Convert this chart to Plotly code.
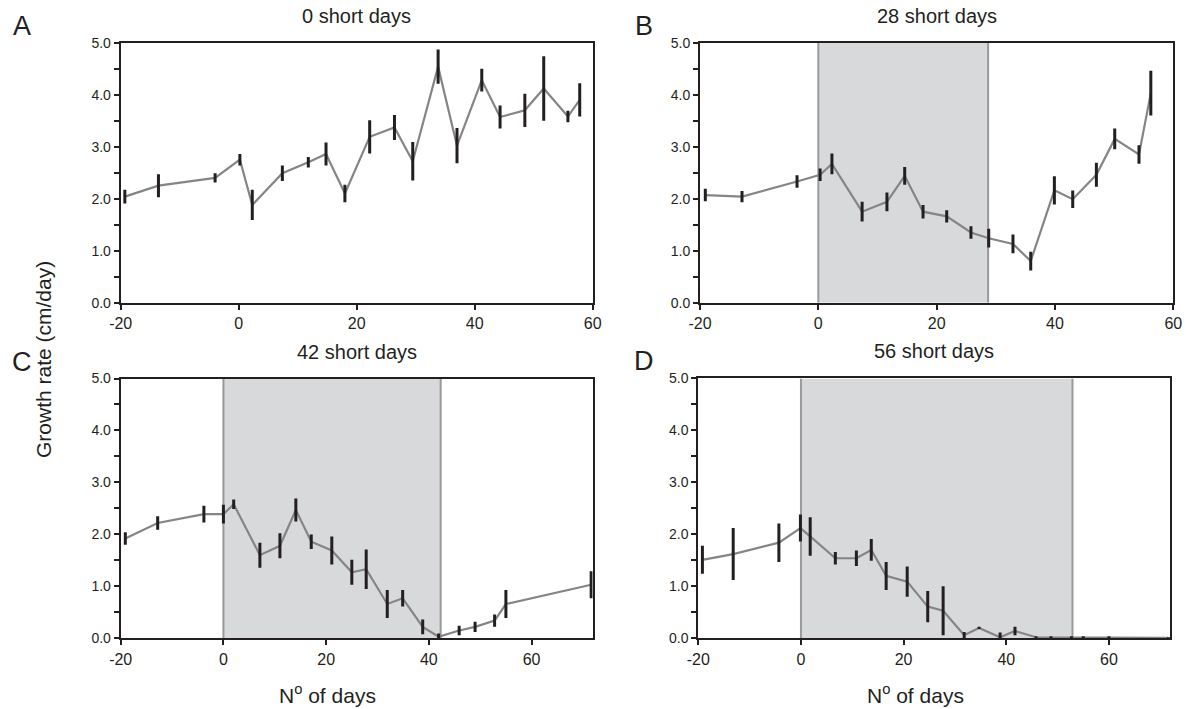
import plotly.graph_objects as go

# ---------------- data ----------------
panel_titles = ["0 short days", "28 short days", "42 short days", "56 short days"]
panel_letters = ["A", "B", "C", "D"]

a_days = [-19.3, -13.6, -4.0, 0.2, 2.3, 7.4, 11.8, 14.8, 18.0, 22.2, 26.4, 29.5,
          33.8, 37.0, 41.2, 44.3, 48.5, 51.7, 55.8, 57.8]
a_rate = [2.04, 2.25, 2.40, 2.75, 1.88, 2.49, 2.70, 2.86, 2.10, 3.19, 3.37, 2.72,
          4.54, 3.02, 4.28, 3.57, 3.70, 4.12, 3.58, 3.90]
a_err = [0.13, 0.22, 0.09, 0.11, 0.29, 0.15, 0.10, 0.22, 0.17, 0.32, 0.24, 0.37,
         0.33, 0.34, 0.22, 0.22, 0.32, 0.62, 0.11, 0.32]

b_days = [-19.1, -12.9, -3.6, 0.3, 2.3, 7.4, 11.6, 14.6, 17.7, 21.7, 25.8, 28.8,
          32.9, 35.9, 39.9, 43.0, 47.0, 50.1, 54.2, 56.2]
b_rate = [2.07, 2.04, 2.33, 2.46, 2.67, 1.75, 1.94, 2.44, 1.75, 1.66, 1.35, 1.24,
          1.13, 0.80, 2.16, 1.99, 2.46, 3.15, 2.85, 4.03]
b_err = [0.12, 0.11, 0.12, 0.12, 0.20, 0.19, 0.18, 0.17, 0.13, 0.12, 0.12, 0.18,
         0.18, 0.18, 0.27, 0.17, 0.23, 0.20, 0.18, 0.43]

c_days = [-19.1, -12.8, -3.8, 0.0, 2.0, 7.1, 11.0, 14.1, 17.1, 21.1, 25.0, 27.8,
          31.9, 34.9, 38.8, 41.9, 45.9, 49.0, 52.8, 55.0, 71.6]
c_rate = [1.92, 2.22, 2.39, 2.39, 2.58, 1.60, 1.78, 2.47, 1.86, 1.69, 1.27, 1.33,
          0.66, 0.77, 0.22, 0.03, 0.15, 0.22, 0.34, 0.66, 1.03]
c_err = [0.12, 0.13, 0.16, 0.18, 0.09, 0.24, 0.24, 0.22, 0.14, 0.27, 0.24, 0.38,
         0.27, 0.16, 0.14, 0.06, 0.09, 0.10, 0.12, 0.27, 0.26]

d_days = [-19.2, -13.2, -4.3, -0.1, 1.8, 6.7, 10.8, 13.7, 16.6, 20.7, 24.7, 27.7,
          31.8, 34.7, 38.8, 41.7, 45.8, 48.7, 52.7, 55.0, 60.0, 71.6]
d_rate = [1.51, 1.62, 1.84, 2.12, 1.96, 1.54, 1.54, 1.70, 1.20, 1.09, 0.61, 0.53,
          0.06, 0.20, 0.02, 0.14, 0.02, 0.02, 0.02, 0.02, 0.02, 0.01]
d_err = [0.27, 0.50, 0.37, 0.26, 0.37, 0.12, 0.15, 0.21, 0.27, 0.29, 0.30, 0.47,
         0.06, 0.02, 0.09, 0.08, 0.02, 0.02, 0.02, 0.02, 0.02, 0.01]

shade_start = [None, 0.0, 0.0, 0.0]
shade_end = [None, 28.7, 42.3, 52.9]

x_ranges = [[-20, 60], [-20, 60], [-20, 71.9], [-20, 71.9]]
y_range = [0, 5]
y_ticks = [0, 1, 2, 3, 4, 5]
y_ticklabels = ["0.0", "1.0", "2.0", "3.0", "4.0", "5.0"]
x_ticks = [-20, 0, 20, 40, 60]
x_ticklabels = ["-20", "0", "20", "40", "60"]

y_title = "Growth rate (cm/day)"
x_title = "N<sup>o</sup> of days"

# ---------------- layout geometry (pixels) ----------------
W, H = 1186, 709
FONT = "Liberation Sans, Arial, Helvetica, sans-serif"
INK = "#231f20"

panels_px = [  # x0, x1, ytop, ybottom
    (120.7, 592.7, 42.7, 302.7),
    (700.0, 1173.3, 42.7, 302.7),
    (120.7, 592.7, 378.5, 638.3),
    (698.3, 1170.0, 378.4, 638.3),
]

series = [(a_days, a_rate, a_err), (b_days, b_rate, b_err),
          (c_days, c_rate, c_err), (d_days, d_rate, d_err)]

fig = go.Figure()
layout = dict(
    width=W, height=H,
    margin=dict(l=0, r=0, t=0, b=0, pad=0, autoexpand=False),
    paper_bgcolor="white", plot_bgcolor="white",
    showlegend=False,
    font=dict(family=FONT, color=INK),
    shapes=[], annotations=[],
)

for i, (px0, px1, pyt, pyb) in enumerate(panels_px):
    n = "" if i == 0 else str(i + 1)
    xa, ya = "x" + n, "y" + n
    days, rate, err = series[i]
    fig.add_trace(go.Scatter(x=days, y=rate, mode="lines",
                             line=dict(color="#858585", width=2.2),
                             xaxis=xa, yaxis=ya, hoverinfo="skip"))
    fig.add_trace(go.Scatter(x=days, y=rate, mode="markers",
                             marker=dict(size=1, color="rgba(0,0,0,0)"),
                             error_y=dict(type="data", array=err, visible=True,
                                          color=INK, thickness=3, width=0),
                             xaxis=xa, yaxis=ya, hoverinfo="skip"))
    layout["xaxis" + n] = dict(
        domain=[px0 / W, px1 / W], anchor=ya, range=x_ranges[i],
        tickmode="array", tickvals=x_ticks, ticktext=x_ticklabels,
        ticks="outside", ticklen=5, tickwidth=2, tickcolor=INK,
        showline=True, linecolor=INK, linewidth=2, mirror=True,
        showgrid=False, zeroline=False, automargin=False,
        tickfont=dict(size=16, family=FONT, color=INK),
    )
    layout["yaxis" + n] = dict(
        domain=[1 - pyb / H, 1 - pyt / H], anchor=xa, range=y_range,
        tickmode="array", tickvals=y_ticks, ticktext=y_ticklabels,
        ticks="outside", ticklen=5, tickwidth=2, tickcolor=INK,
        minor=dict(dtick=0.5, tick0=0, ticks="outside", ticklen=5,
                   tickwidth=2, tickcolor=INK, showgrid=False),
        showline=True, linecolor=INK, linewidth=2, mirror=True,
        showgrid=False, zeroline=False, automargin=False,
        tickfont=dict(size=14, family=FONT, color=INK),
    )
    if shade_start[i] is not None:
        layout["shapes"].append(dict(
            type="rect", xref=xa, yref=ya, x0=shade_start[i], x1=shade_end[i],
            y0=y_range[0], y1=y_range[1], fillcolor="#d8d9db",
            line=dict(width=0), layer="below"))
        for xv in (shade_start[i], shade_end[i]):
            layout["shapes"].append(dict(
                type="line", xref=xa, yref=ya, x0=xv, x1=xv,
                y0=y_range[0], y1=y_range[1],
                line=dict(color="#9a9a9a", width=2), layer="below"))
    # panel title
    layout["annotations"].append(dict(
        text=panel_titles[i], xref="paper", yref="paper",
        x=((px0 + px1) / 2) / W, y=1 - (pyt - 27) / H,
        xanchor="center", yanchor="middle", showarrow=False,
        font=dict(size=20, family=FONT, color=INK)))
    # panel letter
    lx = 22 if i % 2 == 0 else 644
    layout["annotations"].append(dict(
        text=panel_letters[i], xref="paper", yref="paper",
        x=lx / W, y=1 - (pyt - 17) / H,
        xanchor="center", yanchor="middle", showarrow=False,
        font=dict(size=27, family=FONT, color=INK)))

# x-axis titles under bottom panels
for xc in (327, 915):
    layout["annotations"].append(dict(
        text=x_title, xref="paper", yref="paper",
        x=xc / W, y=1 - 694 / H, xanchor="center", yanchor="middle",
        showarrow=False, font=dict(size=21, family=FONT, color=INK)))

# shared y-axis title
layout["annotations"].append(dict(
    text=y_title, xref="paper", yref="paper", x=43 / W, y=1 - 360 / H,
    xanchor="center", yanchor="middle", textangle=-90, showarrow=False,
    font=dict(size=21, family=FONT, color=INK)))

fig.update_layout(**layout)
fig.write_html("out.html",
               config={"displayModeBar": False, "staticPlot": True},
               post_script="document.body.style.margin='0';"
                           "document.body.style.overflow='hidden';")
